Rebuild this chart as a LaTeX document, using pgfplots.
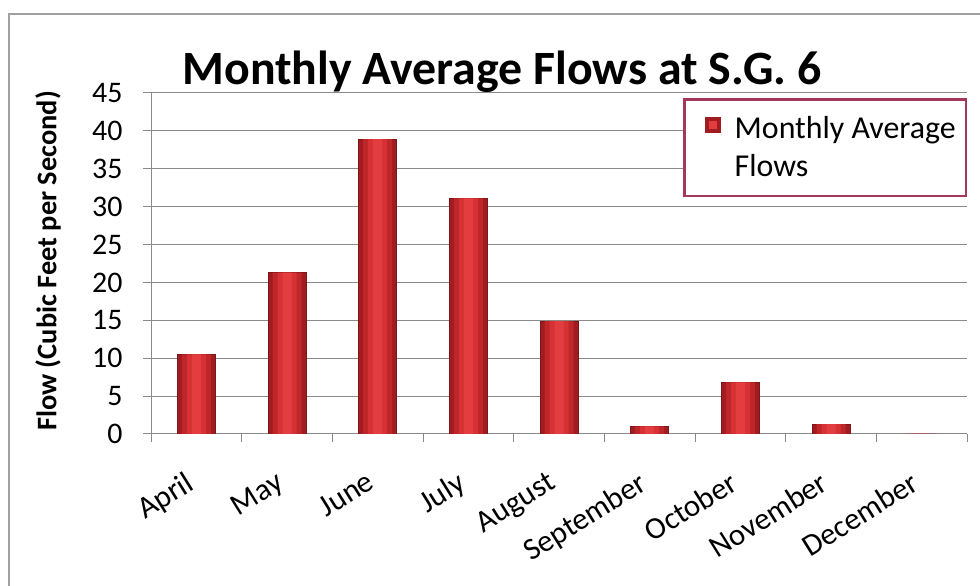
\documentclass[border=0pt]{standalone}
\usepackage{pgfplots}
\pgfplotsset{compat=1.18}
\usepackage{fontspec}
\setmainfont{Carlito}
\definecolor{barDark}{HTML}{A01C21}
\definecolor{barMid}{HTML}{BE2629}
\definecolor{barLight}{HTML}{D63236}
\definecolor{barHigh}{HTML}{E43D3F}
\definecolor{barEdge}{HTML}{7F1518}
\definecolor{legBorder}{HTML}{A3385A}
\definecolor{gridGray}{HTML}{8A8A8A}
\definecolor{frameGray}{HTML}{A0A0A0}
\begin{document}
\begin{tikzpicture}[x=1bp,y=1bp]
  \path[use as bounding box] (0,0) rectangle (980,586);
  \draw[frameGray, line width=1.2bp] (9,0) -- (9,572) -- (980,572);
  \node[font=\fontsize{48}{56}\selectfont\bfseries, anchor=base] at (502,501) {Monthly Average Flows at S.G. 6};
  \node[font=\fontsize{28.5}{34}\selectfont\bfseries, rotate=90] at (48,325) {Flow (Cubic Feet per Second)};
  \begin{axis}[
      at={(151bp,152bp)}, anchor=south west,
      scale only axis, width=816bp, height=341bp,
      ymin=0, ymax=45, ytick={0,5,...,45},
      xmin=-0.5, xmax=8.5,
      xtick={-0.5,0.5,...,8.5},
      x tick label as interval,
      xticklabels={April,May,June,July,August,September,October,November,December},
      xticklabel style={rotate=32, anchor=north east, font=\fontsize{31}{36}\selectfont, xshift=-22bp, yshift=-14bp},
      yticklabel style={font=\fontsize{30}{36}\selectfont, xshift=-17bp},
      /pgf/number format/assume math mode=true,
      axis x line*=bottom, axis y line*=left,
      axis line style={gridGray, line width=1bp},
      tick align=outside, major tick length=8bp,
      tick style={gridGray, line width=1bp},
      ymajorgrids, grid style={gridGray, line width=1bp},
      ybar, bar shift=0pt,
      legend style={at={(1,0.985)}, anchor=north east, draw=legBorder, line width=2.5bp,
        font=\fontsize{32}{38}\selectfont, inner xsep=8bp, inner ysep=15.5bp,
        nodes={align=left, inner sep=2bp}},
      legend image code/.code={
        \path[draw=none, fill=none] (0bp,20bp) -- (40bp,20bp);
        \fill[draw=none, barDark] (12bp,15bp) rectangle (28bp,31bp);
        \fill[draw=none, barHigh] (16bp,19bp) rectangle (24bp,27bp);},
    ]
    \addplot[bar width=38bp, draw=barEdge, line width=0.6bp, fill=barDark] coordinates {
      (0,10.5) (1,21.3) (2,38.9) (3,31.1) (4,14.9) (5,1.0) (6,6.8) (7,1.3) (8,0)};
    \addlegendentry{Monthly Average\\Flows}
    \addplot[forget plot, bar width=29bp, draw=none, fill=barMid] coordinates {
      (0,10.5) (1,21.3) (2,38.9) (3,31.1) (4,14.9) (5,1.0) (6,6.8) (7,1.3) (8,0)};
    \addplot[forget plot, bar width=19bp, draw=none, fill=barLight] coordinates {
      (0,10.5) (1,21.3) (2,38.9) (3,31.1) (4,14.9) (5,1.0) (6,6.8) (7,1.3) (8,0)};
    \addplot[forget plot, bar width=9bp, draw=none, fill=barHigh] coordinates {
      (0,10.5) (1,21.3) (2,38.9) (3,31.1) (4,14.9) (5,1.0) (6,6.8) (7,1.3) (8,0)};
  \end{axis}
\end{tikzpicture}
\end{document}
